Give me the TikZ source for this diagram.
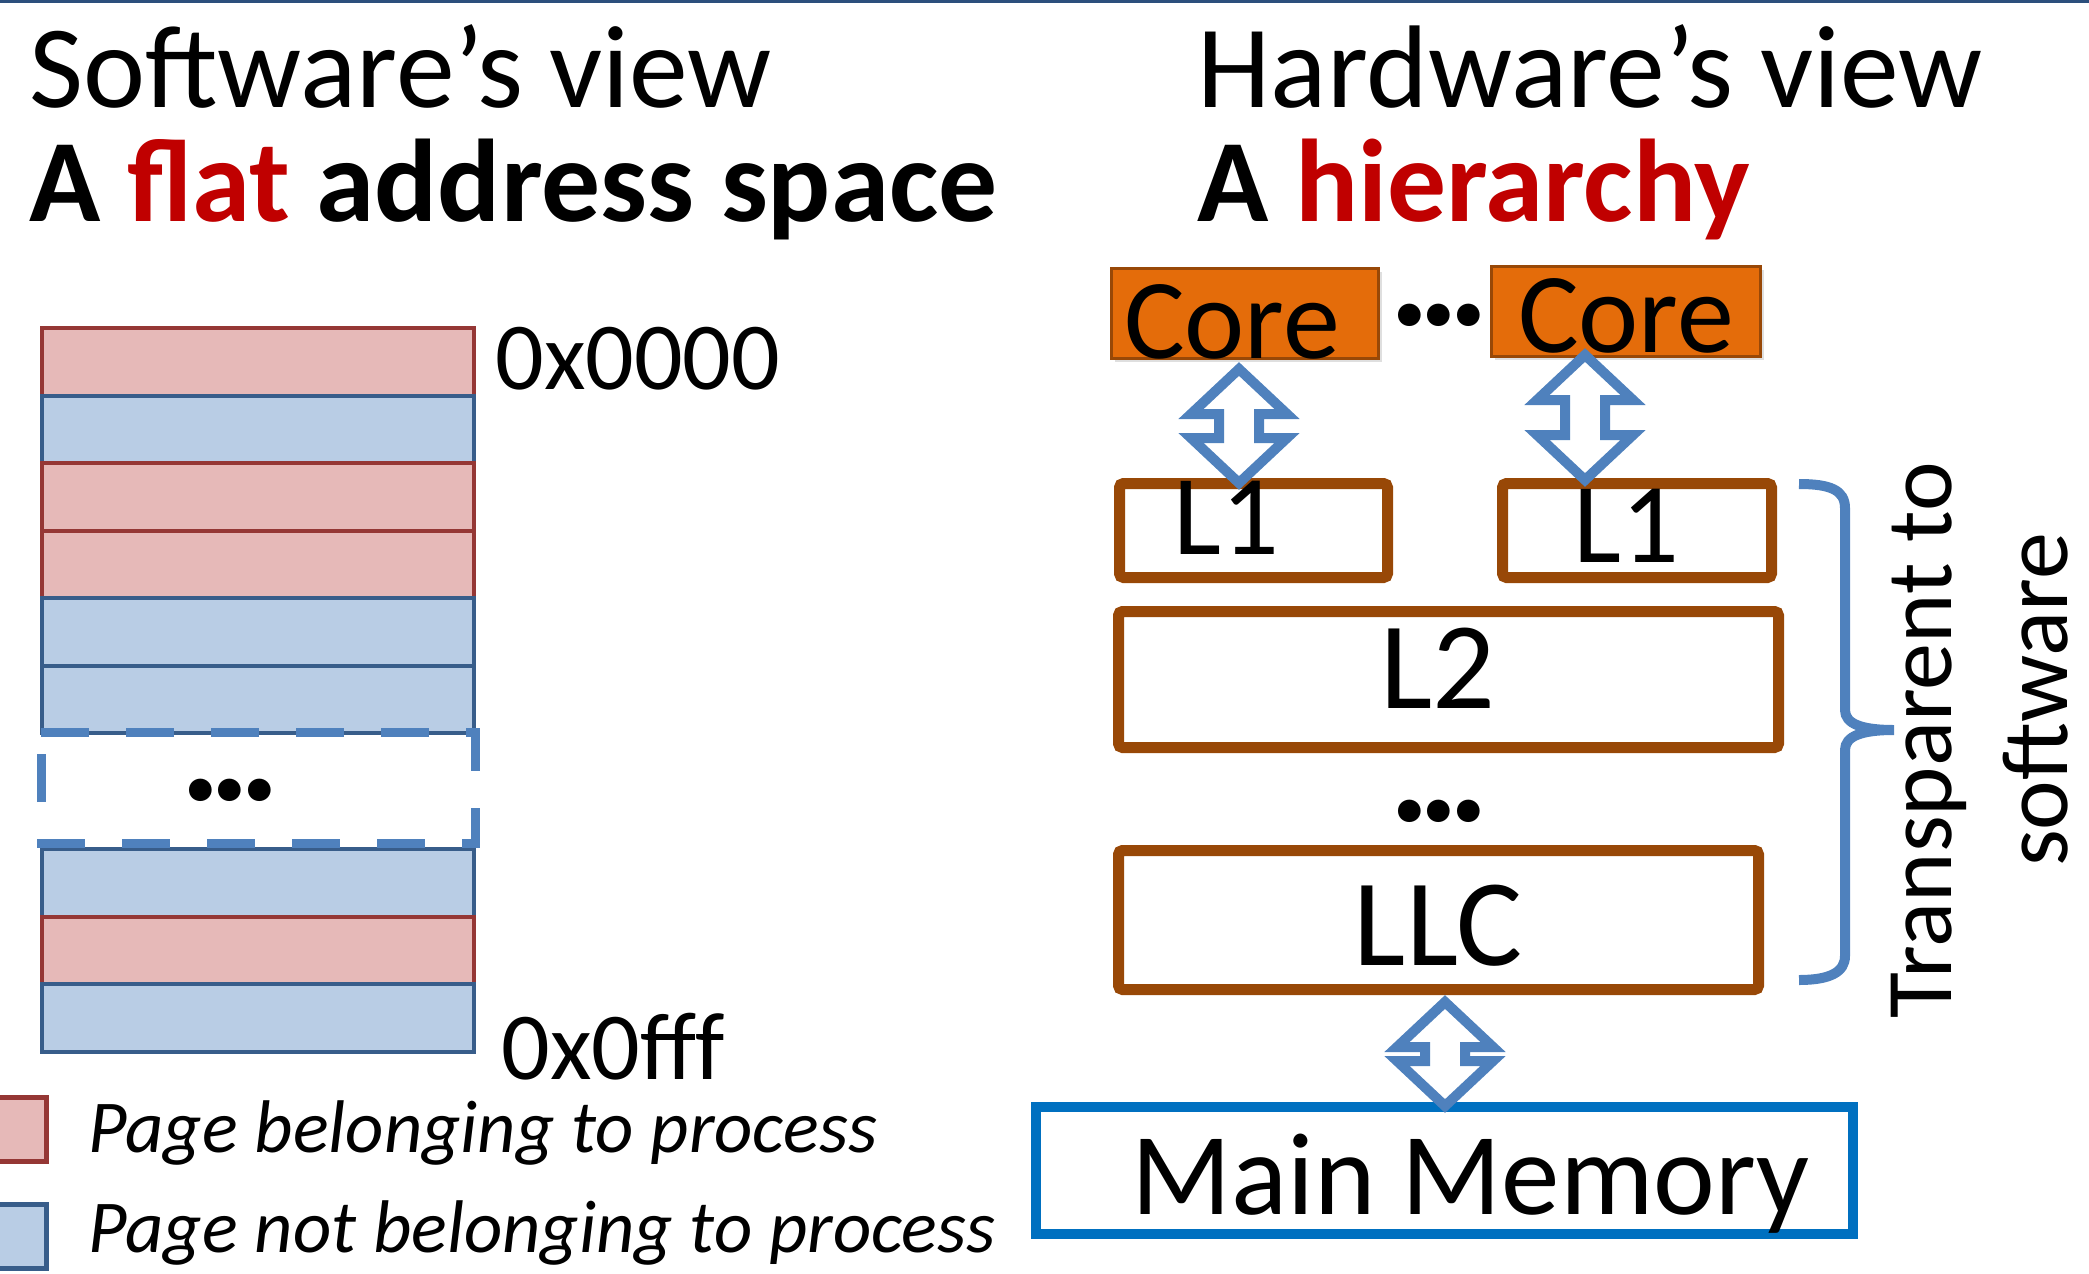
\documentclass[tikz,border=0pt]{standalone}
\usepackage{fontspec}
\setmainfont{Carlito}
\usepackage{tikz}
\usetikzlibrary{calc, shadows}
\definecolor{mypink}{HTML}{E6B9B8}
\definecolor{myred}{HTML}{953735}
\definecolor{mylightblue}{HTML}{B9CDE5}
\definecolor{mynavy}{HTML}{385D8A}
\definecolor{myaccent}{HTML}{4F81BD}
\definecolor{myorange}{HTML}{E46C0A}
\definecolor{mybrown}{HTML}{984807}
\definecolor{mymemblue}{HTML}{0070C0}
\definecolor{mytitlered}{HTML}{C00000}
\definecolor{mybar}{HTML}{2C4F7C}
\newcommand{\fsz}[1]{\fontsize{#1}{#1}\selectfont}
\newcommand{\threedots}{.\kern-5.6pt.\kern-5.6pt.}
\newcommand{\updown}[2]{%
    \draw[blockarrow] let \p1=#1, \p2=#2 in
        (\x1,\y1) -- ++(48,45) -- ++(-28,0) -- ($(\x1,\y2)+(20,-45)$) -- ++(28,0)
        -- (\x1,\y2) -- ++(-48,-45) -- ++(28,0) -- ($(\x1,\y1)+(-20,45)$) -- ++(-28,0) -- cycle;}

\begin{document}
\begin{tikzpicture}[x=0.5pt, y=-0.5pt,
    pagebox/.style={minimum width=216pt, minimum height=33.75pt, inner sep=0pt, line width=2pt},
    ownpage/.style={pagebox, draw=myred, fill=mypink},
    otherpage/.style={pagebox, draw=mynavy, fill=mylightblue},
    legendkey/.style={minimum size=32pt, line width=2.5pt},
    heading/.style={anchor=base west, inner sep=0pt, font=\fsz{58.8pt}},
    addrlabel/.style={anchor=base west, inner sep=0pt, font=\fsz{48pt}},
    legendtext/.style={anchor=base west, inner sep=0pt, font=\fsz{37.3pt}\itshape},
    ellipsis/.style={anchor=base, inner sep=0pt, font=\fsz{76pt}\bfseries},
    corebox/.style={draw=mybrown, line width=1.5pt, fill=myorange, inner sep=0pt,
        minimum height=45pt, text depth=0pt, font=\fsz{57pt},
        drop shadow={opacity=0.25, shadow xshift=1.5pt, shadow yshift=-1.5pt}},
    cachebox/.style={draw=mybrown, line width=5.5pt, fill=white, rounded corners=2pt,
        inner sep=0pt, text depth=0pt, font=\fsz{57pt},
        drop shadow={opacity=0.2, shadow xshift=1.5pt, shadow yshift=-1.5pt}},
    membox/.style={draw=mymemblue, line width=5pt, fill=white, inner sep=0pt,
        text depth=0pt, font=\fsz{58.5pt},
        drop shadow={opacity=0.2, shadow xshift=1.5pt, shadow yshift=-1.5pt}},
    blockarrow/.style={draw=myaccent, line width=5pt, fill=white, line join=miter},
    brace/.style={draw=myaccent, line width=5pt},
    note/.style={rotate=90, anchor=base, inner sep=0pt, font=\fsz{47pt}}
]
    \useasboundingbox (0,0) rectangle (2089,1274);
    \draw[mybar, line width=1.5pt] (0,1.5) -- (2089,1.5);

    \node[heading] (swtitle) at (29,107) {Software’s view};
    \node[heading] (swsub) at (29,221) {\bfseries A \textcolor{mytitlered}{flat} address space};

    \foreach \kind [count=\i] in {ownpage,otherpage,ownpage,ownpage,otherpage,otherpage}
        \node[\kind] (top\i) at (258,294.25+67.5*\i) {};
    \foreach \kind [count=\i] in {otherpage,ownpage,otherpage}
        \node[\kind] (bot\i) at (258,815.25+67.5*\i) {};
    \draw[myaccent, line width=4.5pt, dash pattern=on 24pt off 18.5pt]
        (41,732) -- (475,732) -- (475,843) -- (41,843) -- cycle;
    \node[ellipsis] (skipped) at (230,800) {\threedots};

    \node[addrlabel] (firstaddr) at (495,389) {0x0000};
    \node[addrlabel] (lastaddr) at (501,1079) {0x0fff};

    \node[ownpage, legendkey] (keyown) at (14,1129) {};
    \node[otherpage, legendkey] (keyother) at (14,1236) {};
    \node[legendtext] (ownlabel) at (88,1152) {Page belonging to process};
    \node[legendtext] (otherlabel) at (88,1252) {Page not belonging to process};

    \node[heading] (hwtitle) at (1197,107) {Hardware’s view};
    \node[heading] (hwsub) at (1197,221) {\bfseries A \textcolor{mytitlered}{hierarchy}};

    \node[corebox, minimum width=133.5pt, text height=45pt] (core1) at (1245,313.5) {Core\hspace*{13pt}};
    \node[corebox, minimum width=134.5pt, text height=40.5pt] (core2) at (1626,311.5) {Core};
    \node[ellipsis] (coredots) at (1439,325) {\threedots};

    \node[cachebox, minimum width=134pt, minimum height=47pt, text height=23.5pt] (l1a) at (1253.5,530.5) {L1\hspace*{27.5pt}};
    \node[cachebox, minimum width=134.5pt, minimum height=47pt, text height=31.5pt] (l1b) at (1637,530.5) {L1\hspace*{10.5pt}};
    \node[cachebox, minimum width=330pt, minimum height=68pt, text height=28.5pt, font=\fsz{62pt}] (l2) at (1448.5,679.5) {L2\hspace*{10.5pt}};
    \node[ellipsis] (cachedots) at (1439,821) {\threedots};
    \node[cachebox, minimum width=320pt, minimum height=69.5pt, text height=45pt, font=\fsz{62pt}] (llc) at (1438.5,920) {LLC};
    \node[membox, minimum width=408.5pt, minimum height=63.5pt, text height=43.5pt] (mem) at (1444.5,1170.5) {\hspace*{26pt}Main Memory};

    \updown{($(core1.south)+(-6,9)$)}{($(l1a.north)+(0,5)$)}
    \updown{($(core2.south)+(-41,-3)$)}{($(l1b.north)+(0,2)$)}
    \updown{($(llc.south)+(6.5,7)$)}{($(mem.north)+(0,4)$)}

    \draw[brace] (1799,484) .. controls (1830,484) and (1845,490) .. (1845,508) -- (1845,710)
        .. controls (1845,724) and (1862,730) .. (1894,730)
        .. controls (1862,730) and (1845,736) .. (1845,750) -- (1845,956)
        .. controls (1845,972) and (1830,980) .. (1799,980);
    \node[note] (transparent) at (1951,740) {Transparent to};
    \node[note] (software) at (2067,700) {software};
\end{tikzpicture}
\end{document}
